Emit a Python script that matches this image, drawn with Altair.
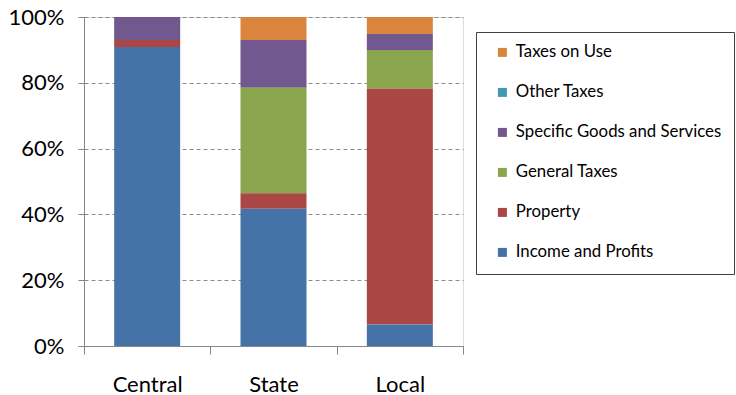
import altair as alt
import pandas as pd

levels = ["Central", "State", "Local"]
series = ["Taxes on Use", "Other Taxes", "Specific Goods and Services",
          "General Taxes", "Property", "Income and Profits"]
colors = ["#DB843D", "#4198AF", "#71588F", "#89A54E", "#AA4643", "#4572A7"]

income = [90.9, 41.7, 6.5]
property_ = [2.1, 4.7, 71.7]
general = [0.0, 32.1, 11.8]
specific = [7.0, 14.5, 4.8]
other = [0.0, 0.0, 0.0]
use = [0.0, 7.0, 5.2]

values = {
    "Income and Profits": income,
    "Property": property_,
    "General Taxes": general,
    "Specific Goods and Services": specific,
    "Other Taxes": other,
    "Taxes on Use": use,
}

rows = []
stack_order = list(reversed(series))
for s in series:
    for i, lvl in enumerate(levels):
        rows.append({"level": lvl, "series": s, "value": values[s][i],
                     "ord": stack_order.index(s)})
df = pd.DataFrame(rows)

FONT = "Lato"

chart = alt.Chart(df).mark_bar(size=66).encode(
    x=alt.X("level:N", sort=levels, title=None,
            scale=alt.Scale(paddingInner=0, paddingOuter=0),
            axis=alt.Axis(labelAngle=0, labelFontSize=22, labelFont=FONT,
                          labelColor="#000000", labelPadding=20,
                          tickBand="extent", tickSize=8, tickColor="#868686",
                          domainColor="#868686", grid=False)),
    y=alt.Y("value:Q", stack="normalize", title=None,
            scale=alt.Scale(domain=[0, 1]),
            axis=alt.Axis(format=".0%", values=[0, 0.2, 0.4, 0.6, 0.8, 1.0],
                          labelFontSize=22, labelFont=FONT, labelColor="#000000",
                          labelPadding=14, tickSize=6, tickColor="#868686",
                          domainColor="#868686", grid=True, gridColor="#8c8c8c",
                          gridDash=[4, 3], gridWidth=1)),
    color=alt.Color("series:N", sort=series,
                    scale=alt.Scale(domain=series, range=colors),
                    legend=alt.Legend(title=None, orient="none", legendX=392, legendY=15,
                                      strokeColor="#404040", padding=12,
                                      symbolType="square", symbolSize=81,
                                      symbolStrokeWidth=0, symbolOffset=6,
                                      labelFont=FONT, labelFontSize=16.8,
                                      labelColor="#000000", labelOffset=5,
                                      rowPadding=22, labelLimit=400)),
    order=alt.Order("ord:Q", sort="ascending"),
).properties(
    width=379, height=329,
    autosize=alt.AutoSizeParams(type="none"),
    padding={"left": 84, "top": 17, "right": 273, "bottom": 49},
).configure_view(stroke=None).configure(background="#ffffff")

chart.save("out.html", embed_options={"renderer": "svg", "actions": False})
